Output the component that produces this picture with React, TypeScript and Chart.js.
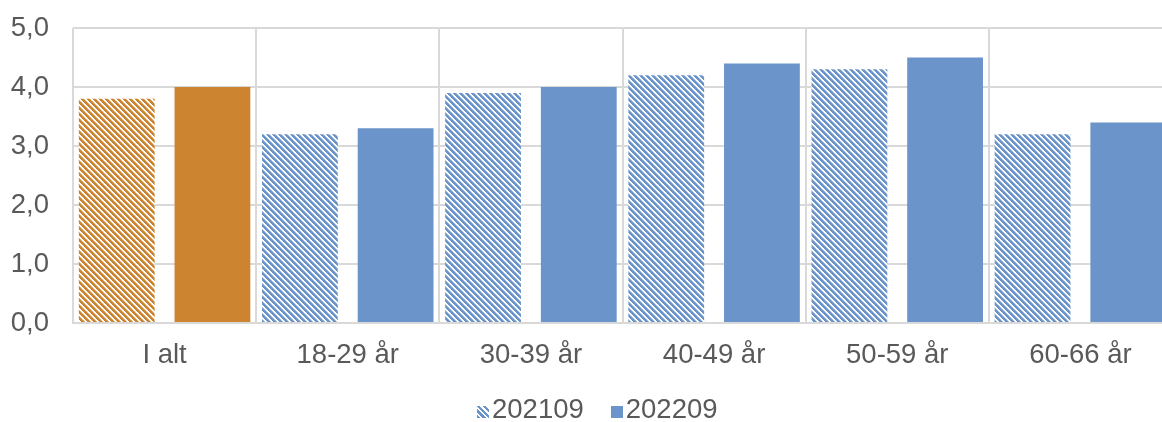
import React, { useEffect, useRef } from 'react';
import { Chart, registerables } from 'chart.js';

Chart.register(...registerables);

const categories = ['I alt', '18-29 år', '30-39 år', '40-49 år', '50-59 år', '60-66 år'];
const values202109 = [3.8, 3.2, 3.9, 4.2, 4.3, 3.2];
const values202209 = [4.0, 3.3, 4.0, 4.4, 4.5, 3.4];
const seriesLabels = ['202109', '202209'];

const ORANGE = '#CD8430';
const BLUE = '#6A94CA';
const GRID = '#D9D9D9';
const TEXT = '#595959';
const FONT = 'Liberation Sans, Arial, sans-serif';
const FONT_SIZE = 27.5;

function makePattern(color: string): CanvasPattern | string {
  const c = document.createElement('canvas');
  const n = 6;
  c.width = n;
  c.height = n;
  const ctx = c.getContext('2d');
  if (!ctx) return color;
  ctx.fillStyle = '#ffffff';
  ctx.fillRect(0, 0, n, n);
  for (let y = 0; y < n; y++) {
    for (let x = 0; x < n; x++) {
      const d = (((x - y) % n) + n) % n;
      if (d < 3) {
        ctx.globalAlpha = 1;
        ctx.fillStyle = color;
        ctx.fillRect(x, y, 1, 1);
      } else if (d === 3) {
        ctx.globalAlpha = 0.6;
        ctx.fillStyle = color;
        ctx.fillRect(x, y, 1, 1);
      }
    }
  }
  const p = ctx.createPattern(c, 'repeat');
  return p || color;
}

const hatchCss = (color: string) =>
  `repeating-linear-gradient(45deg, ${color} 0px, ${color} 2.2px, #ffffff 2.2px, #ffffff 4.2px)`;

export default function App() {
  const ref = useRef<HTMLCanvasElement>(null);

  useEffect(() => {
    if (!ref.current) return;
    const orangeHatch = makePattern(ORANGE);
    const blueHatch = makePattern(BLUE);
    const hatchColors = categories.map((_, i) => (i === 0 ? orangeHatch : blueHatch));
    const solidColors = categories.map((_, i) => (i === 0 ? ORANGE : BLUE));

    const chart = new Chart(ref.current, {
      type: 'bar',
      data: {
        labels: categories,
        datasets: [
          {
            label: seriesLabels[0],
            data: values202109,
            backgroundColor: hatchColors as any,
            borderWidth: 0,
            categoryPercentage: 1.045,
            barPercentage: 0.792,
          },
          {
            label: seriesLabels[1],
            data: values202209,
            backgroundColor: solidColors,
            borderWidth: 0,
            categoryPercentage: 1.045,
            barPercentage: 0.792,
          },
        ],
      },
      options: {
        responsive: false,
        animation: false,
        devicePixelRatio: 1,
        layout: { padding: { top: 28, left: 0, right: 0, bottom: 49 } },
        plugins: {
          tooltip: { enabled: false },
          legend: { display: false },
        },
        scales: {
          x: {
            afterFit: (s: any) => {
              s.height = 50;
            },
            grid: { color: GRID, lineWidth: 2, drawTicks: false, offset: true },
            border: { color: GRID, width: 2 },
            ticks: { color: TEXT, font: { family: FONT, size: FONT_SIZE }, padding: 16, maxRotation: 0 },
          },
          y: {
            min: 0,
            max: 5,
            afterFit: (s: any) => {
              s.width = 73;
              s.paddingTop = 0;
              s.paddingBottom = 0;
            },
            grid: { color: GRID, lineWidth: 2, drawTicks: false },
            border: { display: false },
            ticks: {
              stepSize: 1,
              color: TEXT,
              font: { family: FONT, size: FONT_SIZE },
              padding: 24,
              callback: (v: any) => Number(v).toFixed(1).replace('.', ','),
            },
          },
        },
      },
    });
    return () => chart.destroy();
  }, []);

  const legendText: React.CSSProperties = {
    fontFamily: FONT,
    fontSize: FONT_SIZE,
    lineHeight: '30px',
    color: TEXT,
    whiteSpace: 'nowrap',
  };

  return (
    <div style={{ position: 'fixed', left: 0, top: 0, width: 1162, height: 422, overflow: 'hidden', background: '#fff' }}>
      <canvas ref={ref} width={1172} height={422} style={{ width: 1172, height: 422, display: 'block' }} />
      <div style={{ position: 'absolute', left: 477, top: 394, display: 'flex', alignItems: 'center' }}>
        <span style={{ display: 'inline-block', width: 12, height: 12, marginTop: 6, marginRight: 3, background: hatchCss(BLUE) }} />
        <span style={legendText}>{seriesLabels[0]}</span>
        <span style={{ display: 'inline-block', width: 12, height: 12, marginTop: 6, marginLeft: 27, marginRight: 3, background: BLUE }} />
        <span style={legendText}>{seriesLabels[1]}</span>
      </div>
    </div>
  );
}
